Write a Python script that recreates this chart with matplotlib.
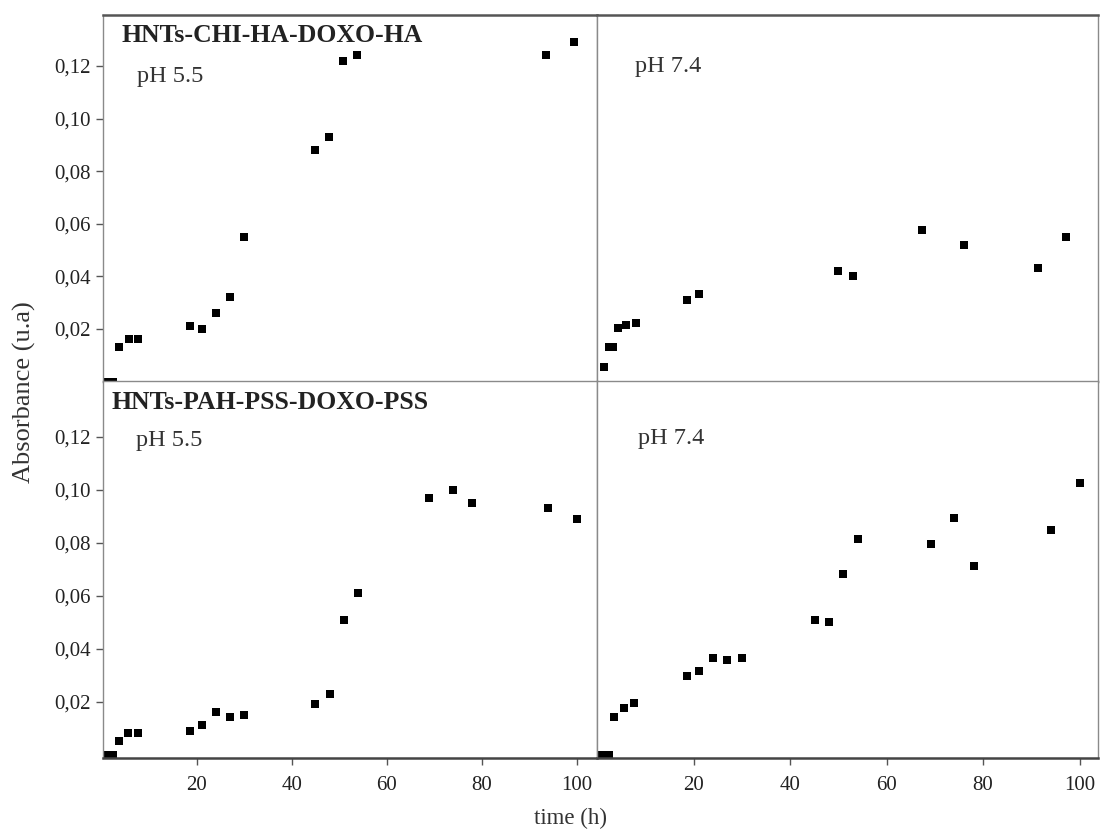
import matplotlib
matplotlib.use("Agg")
import matplotlib.pyplot as plt
from matplotlib.ticker import FuncFormatter

plt.rcParams['font.family'] = ['Liberation Serif', 'DejaVu Serif']

# HNTs-CHI-HA-DOXO-HA, pH 5.5
t_chi_55 = [1.0, 2.5, 3.7, 5.7, 7.7, 18.6, 21.1, 24.1, 27.0, 30.0, 44.9, 47.9, 50.9, 53.8, 93.5, 99.4]
a_chi_55 = [0.0, 0.0, 0.013, 0.016, 0.016, 0.021, 0.020, 0.026, 0.032, 0.055, 0.088, 0.093, 0.122, 0.124, 0.124, 0.129]

# HNTs-CHI-HA-DOXO-HA, pH 7.4
t_chi_74 = [1.35, 2.4, 3.3, 4.25, 6.1, 8.1, 18.7, 21.1, 50.0, 53.0, 67.3, 76.0, 91.4, 97.2]
a_chi_74 = [0.0056, 0.0133, 0.0133, 0.0203, 0.0213, 0.0223, 0.0311, 0.0332, 0.0419, 0.040, 0.0578, 0.0518, 0.0431, 0.0549]

# HNTs-PAH-PSS-DOXO-PSS, pH 5.5
t_pah_55 = [1.0, 2.5, 3.6, 5.6, 7.6, 18.6, 21.1, 24.1, 27.0, 30.0, 45.0, 48.0, 51.0, 54.0, 69.0, 74.0, 78.0, 94.0, 100.0]
a_pah_55 = [0.0, 0.0, 0.0052, 0.0082, 0.0082, 0.0091, 0.0111, 0.016, 0.0141, 0.0152, 0.0191, 0.023, 0.0509, 0.061,
            0.0969, 0.0999, 0.095, 0.093, 0.0889]

# HNTs-PAH-PSS-DOXO-PSS, pH 7.4
t_pah_74 = [1.0, 2.5, 3.6, 5.6, 7.6, 18.6, 21.1, 24.1, 27.0, 30.1, 45.2, 48.1, 51.0, 54.1, 69.1, 74.0, 78.1, 94.1, 100.0]
a_pah_74 = [0.0, 0.0, 0.0143, 0.0175, 0.0194, 0.0297, 0.0316, 0.0367, 0.0357, 0.0367, 0.051, 0.050, 0.0682, 0.0814,
            0.0794, 0.0894, 0.0712, 0.0849, 0.1026]

y_ticks = [0.02, 0.04, 0.06, 0.08, 0.10, 0.12]
x_ticks = [20, 40, 60, 80, 100]

W, H = 1102, 832
fig = plt.figure(figsize=(W / 100, H / 100), dpi=100)


def px_axes(x0, y0, x1, y1):
    # pixel box (top-left origin) -> figure fraction axes
    return fig.add_axes([x0 / W, 1 - y1 / H, (x1 - x0) / W, (y1 - y0) / H])


ax_tl = px_axes(103, 15, 597, 381.5)
ax_tr = px_axes(597, 15, 1097.5, 381.5)
ax_bl = px_axes(103, 381.5, 597, 757.5)
ax_br = px_axes(597, 381.5, 1097.5, 757.5)

comma = FuncFormatter(lambda v, p: ("%.2f" % v).replace(".", ","))

panels = [
    (ax_tl, t_chi_55, a_chi_55, (0.3, 104.3), (0, 0.1394)),
    (ax_tr, t_chi_74, a_chi_74, (0, 103.7), (0, 0.1394)),
    (ax_bl, t_pah_55, a_pah_55, (0.3, 104.3), (-0.001, 0.1408)),
    (ax_br, t_pah_74, a_pah_74, (0, 103.7), (-0.001, 0.1408)),
]

for ax, t, a, xl, yl in panels:
    ax.plot(t, a, 's', color='black', ms=5.8, mew=0)
    ax.set_xlim(*xl)
    ax.set_ylim(*yl)
    for s in ax.spines.values():
        s.set_color('#8a8a8a')
        s.set_linewidth(1.0)
    ax.tick_params(direction='out', length=5, width=1, color='#555555',
                   labelsize=15, labelcolor='#222222', pad=4)
    ax.set_xticks(x_ticks)
    ax.set_yticks(y_ticks)
    ax.yaxis.set_major_formatter(comma)

for ax in (ax_tl, ax_tr):
    ax.spines['top'].set_color('#555555')
    ax.spines['top'].set_linewidth(1.8)
    ax.tick_params(axis='x', bottom=False, labelbottom=False)

for ax in (ax_bl, ax_br):
    ax.spines['bottom'].set_color('#444444')
    ax.spines['bottom'].set_linewidth(1.8)
    ax.tick_params(axis='x', pad=8)

for ax in (ax_tr, ax_br):
    ax.tick_params(axis='y', left=False, labelleft=False)

ax_tl.text(0.038, 0.926, "HNTs-CHI-HA-DOXO-HA", transform=ax_tl.transAxes,
           fontsize=18.5, fontweight='bold', color='#222222')
ax_tl.text(0.069, 0.817, "pH 5.5", transform=ax_tl.transAxes, fontsize=17.5, color='#333333')
ax_tr.text(0.076, 0.845, "pH 7.4", transform=ax_tr.transAxes, fontsize=17.5, color='#333333')
ax_bl.text(0.018, 0.927, "HNTs-PAH-PSS-DOXO-PSS", transform=ax_bl.transAxes,
           fontsize=18.5, fontweight='bold', color='#222222')
ax_bl.text(0.067, 0.828, "pH 5.5", transform=ax_bl.transAxes, fontsize=17.5, color='#333333')
ax_br.text(0.082, 0.834, "pH 7.4", transform=ax_br.transAxes, fontsize=17.5, color='#333333')

fig.text(24 / W, 1 - 392 / H, "Absorbance (u.a)", rotation=90, ha='center', va='center',
         fontsize=19, color='#333333')
fig.text(570 / W, 1 - 818 / H, "time (h)", ha='center', va='center', fontsize=16.5, color='#333333')

fig.savefig("out.png", dpi=100)
